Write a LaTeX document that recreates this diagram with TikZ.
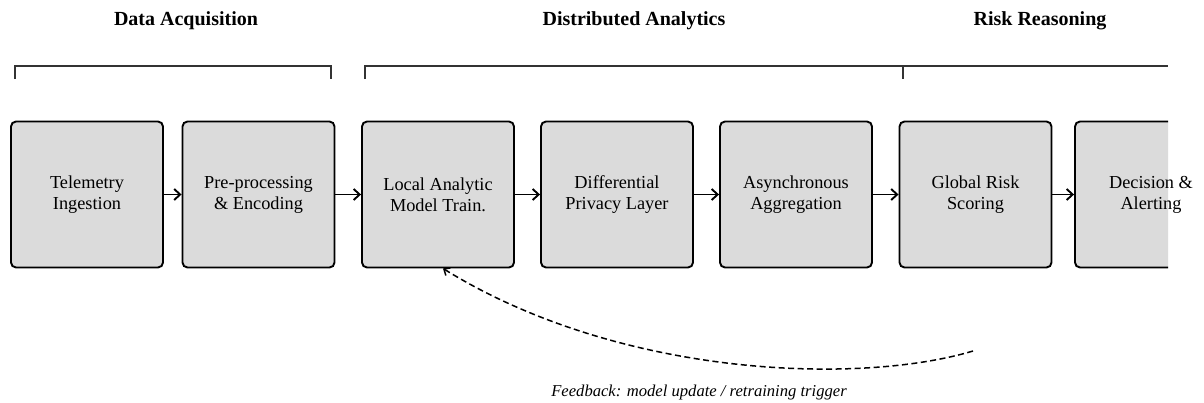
\documentclass[tikz,border=0pt]{standalone}
\usepackage{fontspec}
\setmainfont{Liberation Serif}
\usetikzlibrary{arrows.meta,calc}

\tikzset{
  stageframe/.style={draw=black, line width=1.9pt, rounded corners=5pt, fill=black!14},
  stage/.style={stageframe, minimum width=152pt, minimum height=146pt,
    inner sep=0pt, align=center, font=\fontsize{18.3}{21}\selectfont},
  phase/.style={font=\bfseries\fontsize{20}{24}\selectfont, inner sep=0pt},
  bracket/.style={draw=black!80, line width=1.2pt},
  flow/.style={line width=1.9pt, -{Straight Barb[length=6pt,width=11pt]}},
  feedback/.style={line width=1.5pt, dash pattern=on 6pt off 3.5pt,
    -{Straight Barb[length=5pt,width=9pt]}},
  note/.style={font=\itshape\fontsize{16.6}{20}\selectfont, inner sep=0pt}
}

\begin{document}
\begin{tikzpicture}[x=1pt,y=-1pt]
  \useasboundingbox (0,0) rectangle (1204,402);

  % phase titles
  \node[phase] (tAcq) at (186,21) {Data Acquisition};
  \node[phase] (tDist) at (634,21) {Distributed Analytics};
  \node[phase] (tRisk) at (1040,21) {Risk Reasoning};

  % phase brackets
  \draw[bracket] (15,79) -- (15,66) -- (331,66) -- (331,79);
  \draw[bracket] (365,79) -- (365,66) -- (903,66) -- (903,79);
  \draw[bracket] (903,66) -- (1168,66);

  % pipeline stages
  \node[stage] (b1) at (87,194.5)    {Telemetry\\Ingestion};
  \node[stage] (b2) at (258.5,194.5) {Pre-processing\\\& Encoding};
  \node[stage] (b3) at (438,194.5)   {Local Analytic\\Model Train.};
  \node[stage] (b4) at (617,194.5)   {Differential\\Privacy Layer};
  \node[stage] (b5) at (796,194.5)   {Asynchronous\\Aggregation};
  \node[stage] (b6) at (975.5,194.5) {Global Risk\\Scoring};

  % last stage: its frame is cut off at the right edge, its label is not
  \coordinate (c7) at (1151,194.5);
  \begin{scope}
    \clip (1050,100) rectangle (1168,300);
    \path[stageframe] ($(c7)+(-76,-73)$) rectangle ($(c7)+(76,73)$);
  \end{scope}
  \node[stage, draw=none, fill=none] (b7) at (c7) {Decision \&\\Alerting};

  % forward flow
  \draw[flow] (b1.east) -- (b2.west);
  \draw[flow] (b2.east) -- (b3.west);
  \draw[flow] (b3.east) -- (b4.west);
  \draw[flow] (b4.east) -- (b5.west);
  \draw[flow] (b5.east) -- (b6.west);
  \draw[flow] (b6.east) -- (b7.west);

  % feedback loop back to local training
  \coordinate (fbStart) at (973,351);
  \coordinate (fbEnd) at ($(b3.south)+(5,0)$);
  \draw[feedback] (fbStart) .. controls (860,385) and (620,378) .. (fbEnd);
  \node[note] (fbLabel) at (699,392) {Feedback: model update / retraining trigger};
\end{tikzpicture}
\end{document}
